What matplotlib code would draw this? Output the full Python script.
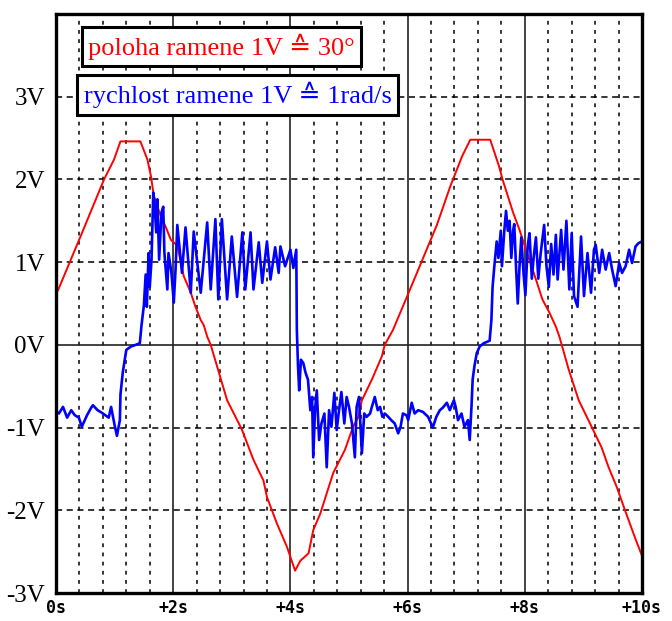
import numpy as np
import matplotlib
matplotlib.use("Agg")
import matplotlib.pyplot as plt

# poloha ramene (red)
pos_t = [0.0, 0.04, 0.43, 0.82, 0.99, 1.1, 1.44, 1.56, 1.62, 1.67, 1.79, 1.87, 1.96,
         2.07, 2.18, 2.3, 2.38, 2.47, 2.52, 2.58, 2.64, 2.92, 3.17, 3.37, 3.54, 3.6,
         3.77, 3.94, 4.08, 4.17, 4.31, 4.39, 4.51, 4.73, 4.93, 5.07, 5.16, 5.22, 5.39,
         5.56, 5.61, 5.75, 6.0, 6.5, 6.73, 6.93, 7.07, 7.41, 7.56, 7.62, 7.8, 7.91,
         8.02, 8.19, 8.3, 8.42, 8.53, 8.59, 8.75, 8.92, 9.14, 9.31, 9.43, 9.57, 9.71,
         9.88, 10.0]
pos_v = [0.62, 0.67, 1.33, 2.0, 2.24, 2.46, 2.46, 2.24, 2.04, 1.8, 1.55, 1.43, 1.27,
         1.2, 0.83, 0.63, 0.46, 0.3, 0.24, 0.1, 0.0, -0.67, -1.02, -1.39, -1.64, -1.84,
         -2.16, -2.44, -2.73, -2.61, -2.52, -2.24, -2.04, -1.55, -1.27, -0.99, -0.87,
         -0.67, -0.42, -0.14, 0.0, 0.18, 0.6, 1.45, 1.92, 2.28, 2.48, 2.48, 2.16, 2.0,
         1.6, 1.39, 1.15, 0.79, 0.55, 0.39, 0.22, 0.1, -0.3, -0.67, -0.99, -1.24,
         -1.48, -1.72, -2.0, -2.33, -2.55]

# rychlost ramene (blue)
vel_t = [0.0, 0.05, 0.12, 0.19, 0.26, 0.32, 0.39, 0.44, 0.53, 0.6, 0.63, 0.71, 0.78,
         0.9, 0.94, 1.0, 1.04, 1.09, 1.1, 1.14, 1.2, 1.28, 1.36, 1.43, 1.46, 1.5,
         1.53, 1.55, 1.58, 1.6, 1.63, 1.66, 1.68, 1.71, 1.73, 1.76, 1.8, 1.83, 1.85,
         1.9, 1.92, 1.97, 2.01, 2.04, 2.07, 2.15, 2.21, 2.3, 2.35, 2.47, 2.58, 2.64,
         2.72, 2.77, 2.83, 2.92, 3.0, 3.09, 3.18, 3.23, 3.32, 3.37, 3.46, 3.52, 3.6,
         3.66, 3.74, 3.8, 3.83, 3.91, 4.0, 4.05, 4.1, 4.11, 4.13, 4.15, 4.18, 4.22,
         4.26, 4.3, 4.34, 4.37, 4.39, 4.42, 4.45, 4.49, 4.53, 4.58, 4.62, 4.66, 4.7,
         4.75, 4.79, 4.83, 4.87, 4.92, 4.96, 5.0, 5.05, 5.1, 5.13, 5.17, 5.22, 5.26,
         5.3, 5.36, 5.39, 5.44, 5.49, 5.53, 5.57, 5.61, 5.67, 5.72, 5.78, 5.84, 5.88,
         5.92, 5.98, 6.01, 6.07, 6.12, 6.18, 6.26, 6.35, 6.43, 6.49, 6.55, 6.6, 6.67,
         6.72, 6.79, 6.82, 6.86, 6.92, 6.97, 7.03, 7.06, 7.09, 7.11, 7.14, 7.18, 7.23,
         7.3, 7.4, 7.43, 7.45, 7.48, 7.52, 7.55, 7.59, 7.61, 7.65, 7.68, 7.71, 7.74,
         7.77, 7.8, 7.82, 7.85, 7.88, 7.91, 7.94, 7.98, 8.01, 8.05, 8.08, 8.12, 8.15,
         8.19, 8.23, 8.27, 8.33, 8.37, 8.41, 8.45, 8.49, 8.53, 8.56, 8.62, 8.66, 8.71,
         8.76, 8.8, 8.84, 8.9, 8.96, 9.01, 9.07, 9.13, 9.18, 9.21, 9.27, 9.32, 9.38,
         9.44, 9.49, 9.55, 9.61, 9.66, 9.72, 9.78, 9.83, 9.89, 9.94, 10.0]
vel_v = [-0.8, -0.83, -0.75, -0.88, -0.79, -0.85, -0.88, -0.99, -0.85, -0.76, -0.73,
         -0.79, -0.82, -0.88, -0.75, -0.97, -1.1, -0.91, -0.6, -0.33, -0.06, -0.02,
         0.0, 0.02, 0.24, 0.48, 0.85, 0.46, 1.11, 0.7, 1.03, 1.84, 1.72, 1.36, 1.76,
         1.03, 1.6, 1.67, 1.11, 0.67, 1.11, 0.87, 0.51, 0.91, 1.45, 0.87, 1.42, 0.63,
         1.37, 0.63, 1.48, 0.67, 1.52, 0.55, 1.52, 0.55, 1.31, 0.58, 1.36, 0.67, 1.36,
         0.67, 1.24, 0.75, 1.25, 0.79, 1.18, 0.87, 1.19, 0.95, 1.15, 0.93, 1.15, 0.18,
         -0.26, -0.55, -0.18, -0.22, -0.34, -0.42, -0.79, -0.63, -1.36, -0.79, -0.55,
         -1.15, -0.95, -0.83, -1.48, -0.79, -0.99, -0.58, -1.03, -0.79, -0.57, -0.95,
         -0.63, -0.75, -0.95, -1.36, -0.75, -0.63, -1.31, -0.83, -0.87, -0.83, -0.75,
         -0.63, -0.79, -0.75, -0.87, -0.83, -0.87, -0.91, -0.95, -1.07, -0.99, -0.83,
         -0.85, -0.91, -0.7, -0.83, -0.79, -0.81, -0.87, -1.0, -0.87, -0.79, -0.76,
         -0.7, -0.79, -0.67, -0.75, -0.91, -0.83, -0.99, -0.91, -1.15, -0.75, -0.42,
         -0.26, -0.1, -0.02, 0.02, 0.05, 0.3, 0.7, 0.95, 1.25, 1.05, 1.38, 0.95, 1.38,
         1.62, 1.38, 1.5, 1.05, 1.38, 1.46, 0.95, 0.5, 0.95, 1.3, 0.85, 0.6, 1.2, 1.35,
         0.8, 1.05, 1.3, 0.8, 1.1, 1.45, 0.95, 0.7, 1.22, 0.85, 1.33, 0.79, 1.39, 0.91,
         1.5, 0.67, 1.35, 0.59, 0.46, 1.31, 0.59, 1.11, 0.63, 1.15, 1.21, 0.87, 1.15,
         0.91, 1.11, 0.91, 0.71, 0.99, 0.87, 0.95, 1.15, 0.99, 1.19, 1.23, 1.25]

x_ticks = [0, 2, 4, 6, 8, 10]
x_labels = ["0s", "+2s", "+4s", "+6s", "+8s", "+10s"]
y_ticks = [-3, -2, -1, 0, 1, 2, 3]
y_labels = ["-3V", "-2V", "-1V", "0V", "1V", "2V", "3V"]

fig = plt.figure(figsize=(6.72, 6.21), dpi=100)
ax = fig.add_axes([56 / 672, 1 - 593 / 621, 586 / 672, 579 / 621])
ax.set_xlim(0, 10)
ax.set_ylim(-3, 4)

# grid: dotted verticals every 0.4 s, solid every 2 s, dashed horizontals every 1 V
minor_x = [v for v in np.arange(0.4, 10, 0.4) if abs(v / 2 - round(v / 2)) > 1e-6]
for v in minor_x:
    ax.axvline(v, color="black", lw=1.1, ls=(0, (2.5, 3.5)), zorder=1)
for v in [2, 4, 6, 8]:
    ax.axvline(v, color="#222222", lw=1.2, zorder=1)
for v in [-2, -1, 1, 2, 3]:
    ax.axhline(v, color="black", lw=1.1, ls=(0, (4, 3)), zorder=1)
ax.axhline(0, color="#222222", lw=1.2, zorder=1)

ax.plot(pos_t, pos_v, color="#ff0000", lw=1.4, zorder=3)
ax.plot(vel_t, vel_v, color="#0000ff", lw=1.9, zorder=4)

ax.set_xticks(x_ticks)
ax.set_xticklabels(x_labels, family="DejaVu Sans Mono", fontweight="bold", fontsize=12)
ax.set_yticks(y_ticks)
ax.set_yticklabels(y_labels, family="Liberation Serif", fontsize=18)
ax.tick_params(length=0)
ax.tick_params(axis="x", pad=4)
ax.tick_params(axis="y", pad=8)
for s in ax.spines.values():
    s.set_linewidth(2.4)
    s.set_zorder(6)

fams = ["Liberation Serif", "DejaVu Serif", "DejaVu Sans"]
ax.text(0.055, 0.944, "poloha ramene 1V \u2259 30\u00b0", transform=ax.transAxes,
        color="#ff0000", fontsize=19, family=fams, va="center", ha="left", zorder=7,
        bbox=dict(boxstyle="square,pad=0.25", fc="white", ec="black", lw=2.2))
ax.text(0.047, 0.86, "rychlost ramene 1V \u2259 1rad/s", transform=ax.transAxes,
        color="#0000ff", fontsize=19, family=fams, va="center", ha="left", zorder=7,
        bbox=dict(boxstyle="square,pad=0.25", fc="white", ec="black", lw=2.2))

fig.savefig("out.png", dpi=100)
